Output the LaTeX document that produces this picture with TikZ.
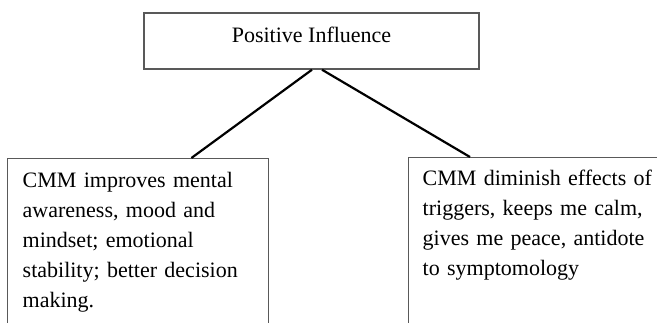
\documentclass[tikz,border=0pt]{standalone}
\usepackage{fontspec}
\setmainfont{Liberation Serif}
\usetikzlibrary{positioning}

\begin{document}
\begin{tikzpicture}[x=1pt,y=1pt,
    panel/.style={draw=black!65, line width=1.4pt, font=\fontsize{22}{30}\selectfont},
    boxtext/.style={panel, anchor=north west, align=left, inner xsep=15pt, inner ysep=14pt,
      text height=15pt, text depth=200pt},
    link/.style={draw=black, line width=2.2pt}]
        \clip (0,0) rectangle (657,-322);

        \node [panel, minimum width=335pt, minimum height=56pt, inner sep=0pt,
          text height=15pt, text depth=13pt] (top) at (311.5,-41) {Positive Influence};

        \node [boxtext, text width=231pt] (leftbox) at (7,-158)
          {CMM improves mental\\ awareness, mood and\\ mindset; emotional\\ stability; better decision\\ making.};
        \node [boxtext, text width=280pt, inner xsep=14pt, inner ysep=13pt] (rightbox) at (408,-157)
          {CMM diminish effects of\\ triggers, keeps me calm,\\ gives me peace, antidote\\ to symptomology};

        \draw [link] ([xshift=0.5pt]top.south) -- ([xshift=-78pt]leftbox.north east);
        \draw [link] ([xshift=10.5pt]top.south) -- ([xshift=62pt]rightbox.north west);

    \end{tikzpicture}
\end{document}
